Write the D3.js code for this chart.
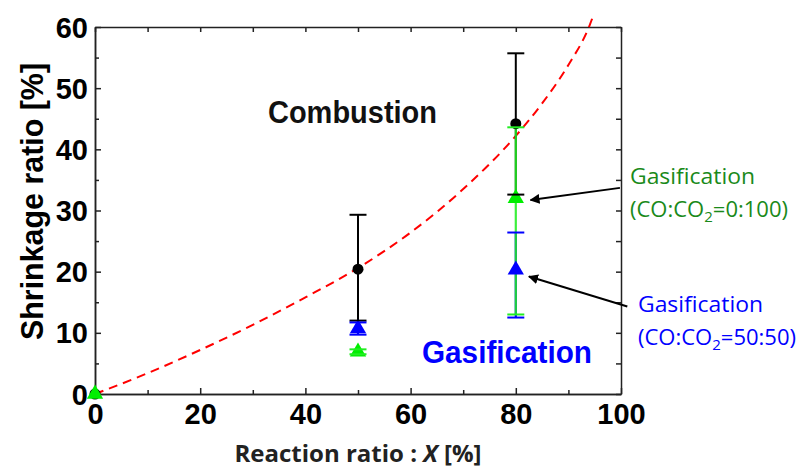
<!DOCTYPE html>
<html>
<head>
<meta charset="utf-8">
<script src="https://cdn.jsdelivr.net/npm/d3@7"></script>
<style>
  body { margin: 0; background: #fff; }
  svg { display: block; }
  .tick text { font-family: "Liberation Sans", Arial, sans-serif; font-weight: bold; font-size: 29px; fill: #000; }
  .axis path, .axis line { stroke: #222; stroke-width: 1.5; }
</style>
</head>
<body>
<div id="chart"></div>
<script>
// data
var xTicks = [0, 20, 40, 60, 80, 100];
var xMinor = [10, 30, 50, 70, 90];
var yTicks = [0, 10, 20, 30, 40, 50, 60];
var yMinor = [5, 15, 25, 35, 45, 55];

var combX = [0, 50, 80];
var combY = [0, 20.4, 44.2];
var combLo = [null, 12.0, 32.6];
var combHi = [null, 29.3, 55.7];

var co2X = [0, 50, 80];           // CO:CO2 = 0:100 (green)
var co2Y = [0, 6.9, 32.0];
var co2Lo = [null, 6.5, 13.0];
var co2Hi = [null, 7.3, 43.6];

var mixX = [50, 80];              // CO:CO2 = 50:50 (blue)
var mixY = [10.7, 20.3];
var mixLo = [9.7, 12.5];
var mixHi = [11.7, 26.4];

// dashed trend line
var fitX = [0, 10, 20, 30, 40, 50, 60, 70, 80, 85, 90, 94, 94.7];
var fitY = [0, 3.4, 7.2, 11.3, 15.8, 20.6, 26.4, 33.5, 42.2, 47.5, 53.8, 60.2, 61.8];

var W = 806, H = 468;
var svg = d3.select("#chart").append("svg").attr("width", W).attr("height", H);

var x = d3.scaleLinear().domain([0, 100]).range([95, 621]);
var y = d3.scaleLinear().domain([0, 60]).range([394, 27]);

// axes, ticks point inwards
svg.append("g").attr("class", "axis").attr("transform", "translate(0,394)")
  .call(d3.axisBottom(x).tickValues(xTicks).tickSize(-6).tickPadding(9).tickSizeOuter(0));
svg.append("g").attr("class", "axis").attr("transform", "translate(0,394)")
  .call(d3.axisBottom(x).tickValues(xMinor).tickSize(-4).tickFormat("").tickSizeOuter(0));
svg.append("g").attr("class", "axis").attr("transform", "translate(95,0)")
  .call(d3.axisLeft(y).tickValues(yTicks).tickSize(-6).tickPadding(7).tickSizeOuter(0));
svg.append("g").attr("class", "axis").attr("transform", "translate(95,0)")
  .call(d3.axisLeft(y).tickValues(yMinor).tickSize(-4).tickFormat("").tickSizeOuter(0));
svg.append("g").attr("class", "axis").attr("transform", "translate(0,27)")
  .call(d3.axisTop(x).tickValues(xTicks.concat(xMinor)).tickSize(-5).tickFormat("").tickSizeOuter(0));
svg.append("g").attr("class", "axis").attr("transform", "translate(621,0)")
  .call(d3.axisRight(y).tickValues(yTicks.concat(yMinor)).tickSize(-5).tickFormat("").tickSizeOuter(0));
svg.selectAll(".tick text").attr("dy", null);
svg.selectAll(".axis .tick text").filter(function () { return this.getAttribute("x") === null; })
  .attr("dominant-baseline", "hanging");
svg.selectAll(".axis .tick text").filter(function () { return this.getAttribute("x") !== null; })
  .attr("dominant-baseline", "central");

// trend line
var fit = fitX.map(function (d, i) { return [d, fitY[i]]; });
svg.append("path").datum(fit)
  .attr("d", d3.line().x(d => x(d[0])).y(d => y(d[1])).curve(d3.curveMonotoneX))
  .attr("fill", "none").attr("stroke", "#ff0000").attr("stroke-width", 2)
  .attr("stroke-dasharray", "9,6");

function rows(xs, ys, lo, hi) {
  return xs.map(function (d, i) { return { x: d, y: ys[i], lo: lo[i], hi: hi[i] }; });
}
var comb = rows(combX, combY, combLo, combHi);
var green = rows(co2X, co2Y, co2Lo, co2Hi);
var blue = rows(mixX, mixY, mixLo, mixHi);

function bars(data, color, width, op) {
  svg.append("g").selectAll("line").data(data.filter(d => d.lo !== null)).join("line")
    .attr("x1", d => x(d.x)).attr("x2", d => x(d.x))
    .attr("y1", d => y(d.lo)).attr("y2", d => y(d.hi))
    .attr("stroke", color).attr("stroke-width", width).attr("opacity", op);
}
function caps(data, color) {
  var g = svg.append("g");
  data.filter(d => d.lo !== null).forEach(function (d) {
    [d.lo, d.hi].forEach(function (v) {
      g.append("line").attr("x1", x(d.x) - 8.5).attr("x2", x(d.x) + 8.5)
        .attr("y1", y(v)).attr("y2", y(v)).attr("stroke", color).attr("stroke-width", 2);
    });
  });
}
var tri = d3.symbol().type(d3.symbolTriangle).size(115);

bars(comb, "#000", 2, 1);
bars(blue, "#0000ff", 2.2, 1);
bars(green, "#22ee22", 2.2, 0.88);

svg.append("g").selectAll("circle").data(comb).join("circle")
  .attr("cx", d => x(d.x)).attr("cy", d => y(d.y)).attr("r", 5.5).attr("fill", "#000");
svg.append("g").selectAll("path").data(blue).join("path")
  .attr("d", tri).attr("transform", d => `translate(${x(d.x)},${y(d.y)})`).attr("fill", "#0000ff");
svg.append("g").selectAll("path").data(green).join("path")
  .attr("d", tri).attr("transform", d => `translate(${x(d.x)},${y(d.y)})`).attr("fill", "#00ee00");

caps(comb, "#000");
caps(blue, "#0000ff");
caps(green, "#22ee22");

// arrows
var defs = svg.append("defs");
defs.append("marker").attr("id", "head").attr("viewBox", "0 0 10 10")
  .attr("refX", 9).attr("refY", 5).attr("markerWidth", 5).attr("markerHeight", 5)
  .attr("orient", "auto")
  .append("path").attr("d", "M0,0 L10,5 L0,10 Z").attr("fill", "#000");
var arrows = [[99.8, 33.7, 82.8, 31.7], [101.2, 14.3, 82.5, 19.2]];
svg.append("g").selectAll("line").data(arrows).join("line")
  .attr("x1", d => x(d[0])).attr("y1", d => y(d[1]))
  .attr("x2", d => x(d[2])).attr("y2", d => y(d[3]))
  .attr("stroke", "#000").attr("stroke-width", 2).attr("marker-end", "url(#head)");

// labels
svg.append("text").attr("x", 268).attr("y", 123).attr("textLength", 169)
  .attr("lengthAdjust", "spacingAndGlyphs")
  .style("font", "bold 31px 'Liberation Sans', Arial, sans-serif").attr("fill", "#111")
  .text("Combustion");
svg.append("text").attr("x", 422).attr("y", 363).attr("textLength", 170)
  .attr("lengthAdjust", "spacingAndGlyphs")
  .style("font", "bold 31px 'Liberation Sans', Arial, sans-serif").attr("fill", "#0000ff")
  .text("Gasification");

function sideLabel(x0, y0, color, ratio) {
  var t = svg.append("text").attr("fill", color)
    .style("font", "22px 'Open Sans', Lato, sans-serif");
  t.append("tspan").attr("x", x0).attr("y", y0).attr("textLength", 125)
    .attr("lengthAdjust", "spacingAndGlyphs").text("Gasification");
  t.append("tspan").attr("x", x0).attr("y", y0 + 33).text("(CO:CO");
  t.append("tspan").attr("dy", 5).style("font-size", "15px").text("2");
  t.append("tspan").attr("dy", -5).text("=" + ratio + ")");
}
sideLabel(630, 184, "#1a8a1a", "0:100");
sideLabel(638, 312, "#0000ff", "50:50");

svg.append("text").attr("transform", "translate(43,201.5) rotate(-90)")
  .attr("text-anchor", "middle").attr("textLength", 277).attr("lengthAdjust", "spacingAndGlyphs")
  .style("font", "bold 32px 'Liberation Sans', Arial, sans-serif").text("Shrinkage ratio [%]");

var xt = svg.append("text").attr("x", 358).attr("y", 462).attr("text-anchor", "middle")
  .style("font", "bold 24px 'Open Sans', Lato, sans-serif").attr("fill", "#222");
xt.append("tspan").text("Reaction ratio : ");
xt.append("tspan").style("font-style", "italic").text("X");
xt.append("tspan").text(" [%]");
</script>
</body>
</html>
